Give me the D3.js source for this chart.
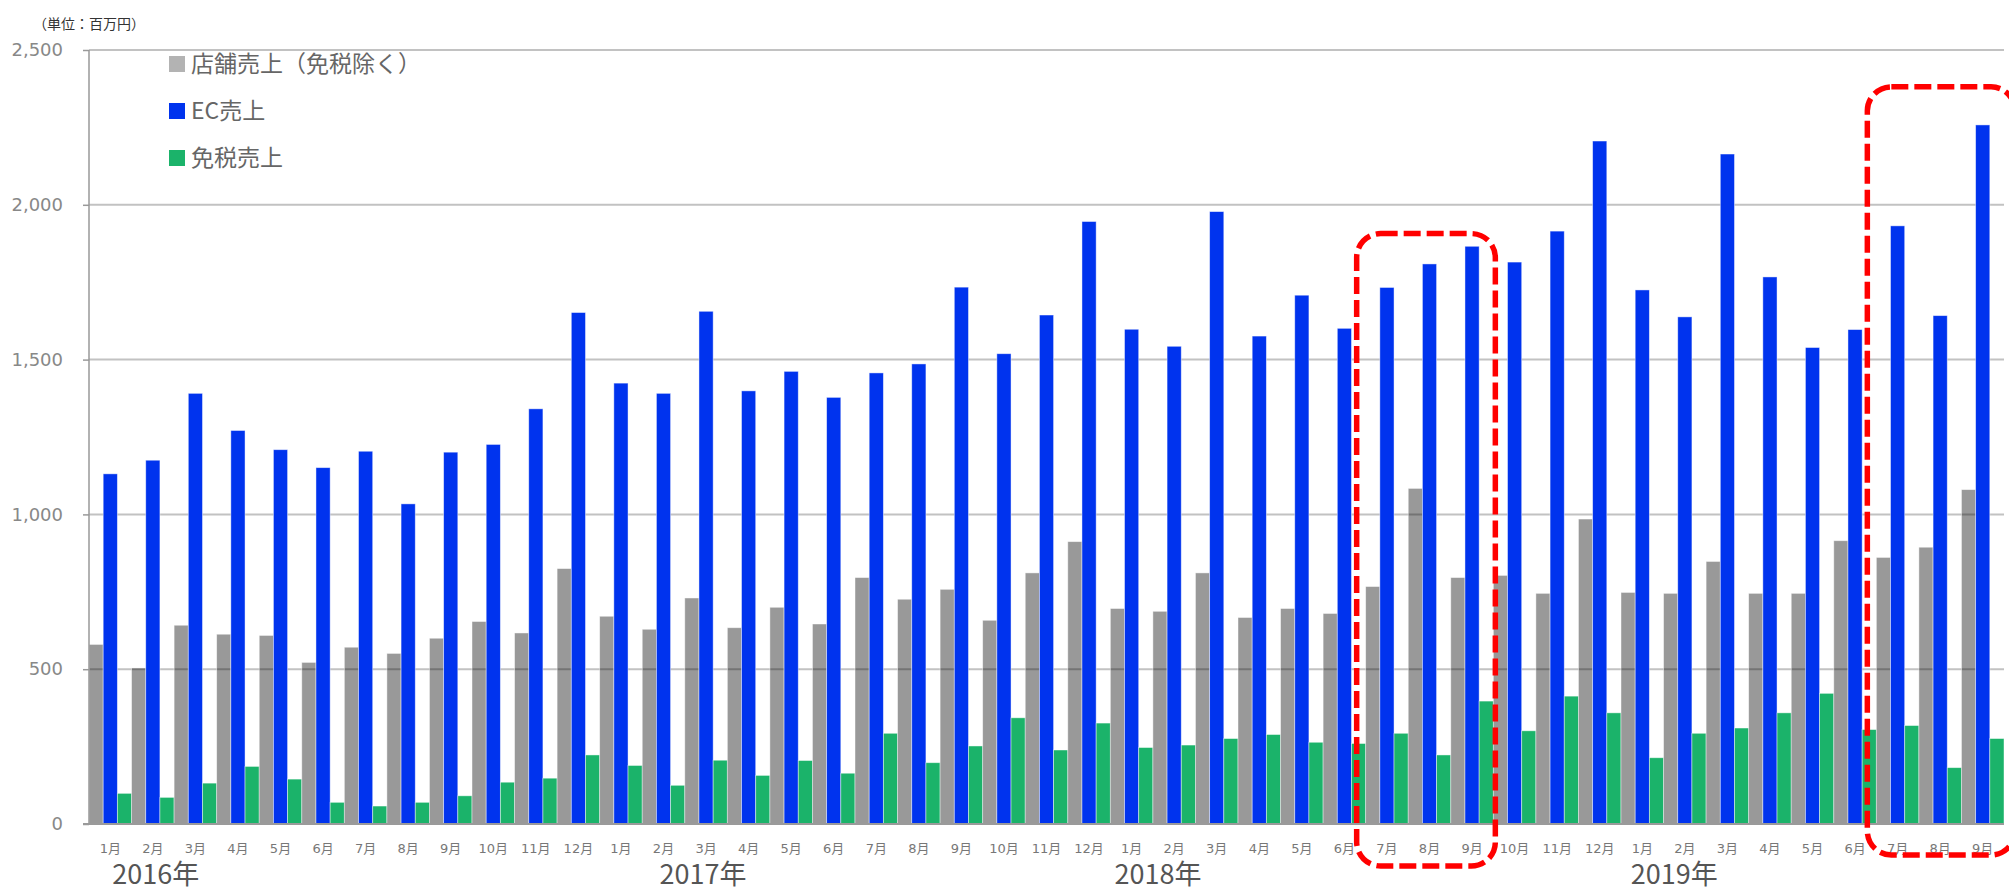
<!DOCTYPE html>
<html>
<head>
<meta charset="utf-8">
<script src="https://cdn.jsdelivr.net/npm/d3@7"></script>
<style>
  body { margin: 0; background: #fff; }
  svg { display: block; }
  text { font-family: "Noto Sans CJK JP", sans-serif; }
  .tick-y { font-family: "DejaVu Sans", sans-serif; }
  .tick-m { font-family: "DejaVu Sans", "Noto Sans CJK JP", sans-serif; }
</style>
</head>
<body>
<svg id="chart"></svg>
<script>
// 月ラベル（2016年1月〜2019年9月）
var monthLabels = [
  "1月","2月","3月","4月","5月","6月","7月","8月","9月","10月","11月","12月",
  "1月","2月","3月","4月","5月","6月","7月","8月","9月","10月","11月","12月",
  "1月","2月","3月","4月","5月","6月","7月","8月","9月","10月","11月","12月",
  "1月","2月","3月","4月","5月","6月","7月","8月","9月"
];

// 単位：百万円
var storeSales = [
  580, 504, 642, 613, 609, 522, 571, 551, 600, 654, 617, 825,
  671, 629, 730, 634, 700, 646, 796, 726, 758, 658, 811, 912,
  696, 687, 811, 667, 696, 680, 767, 1084, 796, 803, 745, 985,
  748, 745, 848, 745, 745, 915, 861, 894, 1080
];
var ecSales = [
  1131, 1175, 1391, 1271, 1209, 1151, 1204, 1034, 1201, 1226, 1341, 1652,
  1424, 1391, 1656, 1399, 1462, 1378, 1457, 1486, 1734, 1519, 1644, 1946,
  1598, 1543, 1978, 1576, 1708, 1601, 1733, 1809, 1866, 1815, 1915, 2206,
  1725, 1638, 2164, 1767, 1539, 1597, 1932, 1642, 2258
];
var dutyFreeSales = [
  99, 86, 132, 186, 145, 70, 58, 70, 91, 135, 148, 223,
  189, 125, 206, 157, 205, 164, 293, 198, 252, 343, 239, 326,
  247, 255, 276, 289, 264, 260, 293, 223, 397, 301, 413, 359,
  214, 293, 310, 359, 422, 305, 318, 182, 276
];

var seriesNames = ["店舗売上（免税除く）", "EC売上", "免税売上"];
var yTicks = [0, 500, 1000, 1500, 2000, 2500];

// 年ラベル（位置は月インデックス）
var yearLabels = ["2016年", "2017年", "2018年", "2019年"];
var yearLabelPos = [1.57, 14.43, 25.12, 37.25];

// 赤い点線の囲み（開始月・終了月のインデックス、上端の値）
var highlightStart = [30, 42];
var highlightEnd = [32, 44];
var highlightTop = [1907, 2381];

renderChart();

function renderChart() {
  var width = 2009, height = 892;
  var left = 89, right = 2004, top = 50, bottom = 824;

  var svg = d3.select("#chart")
    .attr("width", width)
    .attr("height", height);

  var idx = d3.range(monthLabels.length);

  var x = d3.scaleBand()
    .domain(idx)
    .range([left, right])
    .paddingInner(0)
    .paddingOuter(0);

  var xSub = d3.scaleBand()
    .domain([0, 1, 2])
    .range([0, x.bandwidth()]);

  var xPos = d3.scaleLinear()
    .domain([0, monthLabels.length])
    .range([left, right]);

  var y = d3.scaleLinear()
    .domain([0, 2500])
    .range([bottom, top]);

  // 目盛り線
  svg.append("g")
    .selectAll("line")
    .data(yTicks.filter(function(d) { return d > 0; }))
    .enter().append("line")
    .attr("x1", left)
    .attr("x2", right)
    .attr("y1", function(d) { return y(d); })
    .attr("y2", function(d) { return y(d); })
    .attr("stroke", "#c2c2c2")
    .attr("stroke-width", 2);

  // 棒グラフ
  var colours = ["#000", "#0033ee", "#1bb36a"];
  var opac = [0.4, 1, 1];
  var series = [storeSales, ecSales, dutyFreeSales];

  var groups = svg.append("g")
    .selectAll("g")
    .data(idx)
    .enter().append("g")
    .attr("transform", function(i) { return "translate(" + x(i) + ",0)"; });

  groups.selectAll("rect")
    .data(function(i) {
      return series.map(function(s, k) { return { k: k, v: s[i] }; });
    })
    .enter().append("rect")
    .attr("x", function(d) { return xSub(d.k); })
    .attr("width", xSub.bandwidth())
    .attr("y", function(d) { return y(d.v); })
    .attr("height", function(d) { return y(0) - y(d.v); })
    .attr("fill", function(d) { return colours[d.k]; })
    .attr("fill-opacity", function(d) { return opac[d.k]; })
    .attr("stroke", "rgba(255,255,255,0.55)")
    .attr("stroke-width", 0.8);

  // Y軸
  var yAxis = svg.append("g")
    .attr("transform", "translate(" + left + ",0)")
    .call(d3.axisLeft(y).tickValues(yTicks).tickSize(6).tickPadding(20).tickFormat(d3.format(",")));
  yAxis.select(".domain").remove();
  yAxis.selectAll(".tick line").attr("stroke", "#999").attr("stroke-width", 1.5);
  yAxis.selectAll(".tick text")
    .attr("class", "tick-y")
    .attr("fill", "#888")
    .style("font-size", "18px");

  svg.append("line")
    .attr("x1", left).attr("x2", left)
    .attr("y1", top).attr("y2", bottom)
    .attr("stroke", "#999").attr("stroke-width", 1.5);
  svg.append("line")
    .attr("x1", left - 6).attr("x2", right)
    .attr("y1", bottom).attr("y2", bottom)
    .attr("stroke", "#9a9a9a").attr("stroke-width", 2);

  // 月ラベル
  svg.append("g")
    .selectAll("text")
    .data(idx)
    .enter().append("text")
    .attr("class", "tick-m")
    .attr("x", function(i) { return x(i) + x.bandwidth() / 2; })
    .attr("y", 853)
    .attr("text-anchor", "middle")
    .attr("fill", "#777")
    .style("font-size", "13px")
    .text(function(i) { return monthLabels[i]; });

  // 年ラベル
  svg.append("g")
    .selectAll("text")
    .data(yearLabels)
    .enter().append("text")
    .attr("x", function(d, i) { return xPos(yearLabelPos[i]); })
    .attr("y", 884)
    .attr("text-anchor", "middle")
    .attr("fill", "#555")
    .style("font-size", "27px")
    .text(function(d) { return d; });

  // 単位
  svg.append("text")
    .attr("x", 33)
    .attr("y", 29)
    .attr("fill", "#333")
    .style("font-size", "14px")
    .text("（単位：百万円）");

  // 凡例
  var legendColours = ["#b3b3b3", "#0033ee", "#1bb36a"];
  var legend = svg.append("g")
    .selectAll("g")
    .data(seriesNames)
    .enter().append("g")
    .attr("transform", function(d, i) { return "translate(169," + (64 + i * 47) + ")"; });
  legend.append("rect")
    .attr("x", 0).attr("y", -8)
    .attr("width", 16).attr("height", 16)
    .attr("fill", function(d, i) { return legendColours[i]; });
  legend.append("text")
    .attr("x", 22)
    .attr("y", 8)
    .attr("fill", "#666")
    .style("font-size", "23px")
    .text(function(d) { return d; });

  // 赤い点線の囲み
  var boxBottom = [866, 855];
  var padR = [2, 11];
  svg.append("g")
    .selectAll("rect")
    .data(highlightStart)
    .enter().append("rect")
    .attr("x", function(s) { return x(s) - 9; })
    .attr("y", function(s, i) { return y(highlightTop[i]); })
    .attr("width", function(s, i) { return x(highlightEnd[i]) + x.bandwidth() + padR[i] - x(s) + 9; })
    .attr("height", function(s, i) { return boxBottom[i] - y(highlightTop[i]); })
    .attr("rx", 24).attr("ry", 24)
    .attr("fill", "none")
    .attr("stroke", "#ff0000")
    .attr("stroke-width", 5.5)
    .attr("stroke-dasharray", "17 6");
}
</script>
</body>
</html>
